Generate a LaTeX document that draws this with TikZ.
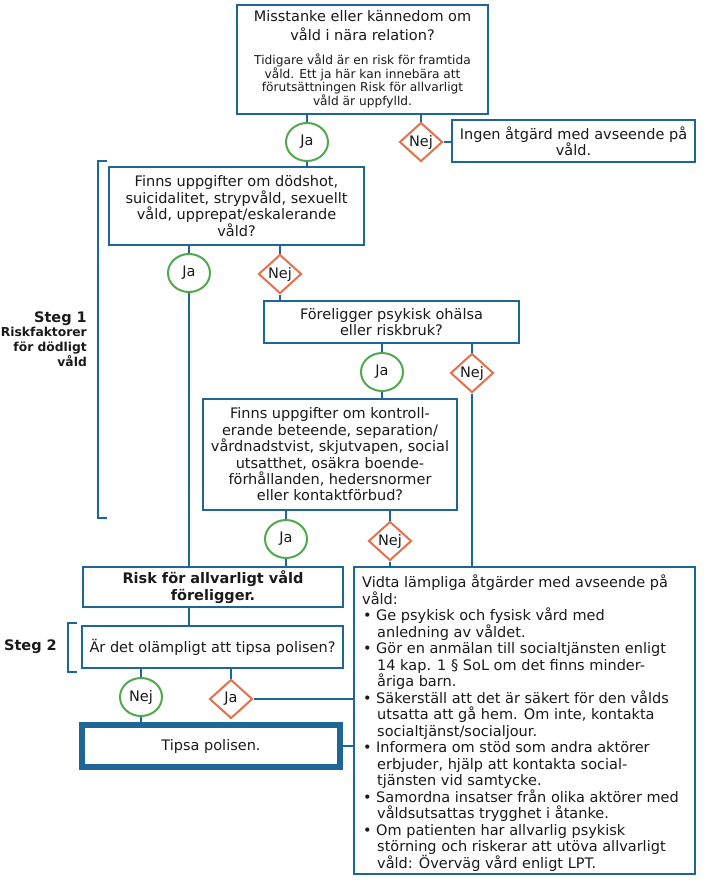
\documentclass[tikz,border=0pt]{standalone}
\usepackage{fontspec}
\setmainfont{DejaVu Sans}
\usetikzlibrary{shapes.geometric}
\definecolor{boxblue}{HTML}{1F6696}
\definecolor{jagreen}{HTML}{52A84E}
\definecolor{nejorange}{HTML}{E5704B}
\definecolor{txt}{HTML}{1A1A1A}
\newcommand\mybul{\makebox[14pt][l]{\hspace{1pt}•}}
\newcommand\myind{\hspace*{15pt}}
\begin{document}
\begin{tikzpicture}[x=1pt,y=-1pt,
  every node/.style={text=txt},
  box/.style={draw=boxblue, line width=2.6pt, fill=white, align=center, inner sep=0pt,
    font=\fontsize{14.5}{16.4}\selectfont},
  jastyle/.style={ellipse, draw=jagreen, line width=2pt, fill=white, minimum width=42pt,
    minimum height=38pt, inner sep=0pt, font=\fontsize{14.5}{16}\selectfont},
  nejstyle/.style={diamond, draw=nejorange, line width=2pt, fill=white, minimum width=43pt,
    minimum height=39pt, inner sep=0pt, font=\fontsize{14.5}{16}\selectfont},
  conn/.style={draw=boxblue, line width=2.4pt},
  bracket/.style={draw=boxblue, line width=2.4pt},
  acttext/.style={align=left, inner sep=0pt, font=\fontsize{14.5}{16.5}\selectfont}
]
\useasboundingbox (0,0) rectangle (727,894);
\fill[white] (0,0) rectangle (727,894);

% boxes
\node[box, minimum width=251pt, minimum height=109pt] (top) at (362.5,59.5)
  {\begin{minipage}{245pt}\centering\fontsize{14.5}{19}\selectfont Misstanke eller kännedom om\\ våld i nära relation?\par\vspace{11pt}\fontsize{12.2}{12.8}\selectfont Tidigare våld är en risk för framtida\\ våld. Ett ja här kan innebära att\\ förutsättningen Risk för allvarligt\\ våld är uppfylld.\par\end{minipage}};
\node[jastyle] (ja1) at (307,142) {Ja};
\node[nejstyle] (nej1) at (421,142) {Nej};
\node[box, minimum width=243pt, minimum height=42pt] (ingen) at (573.5,141) {Ingen åtgärd med avseende på\\ våld.};

\node[box, minimum width=255pt, minimum height=78pt] (q1) at (236.5,206)
  {Finns uppgifter om dödshot,\\ suicidalitet, strypvåld, sexuellt\\ våld, upprepat/eskalerande\\ våld?};
\node[jastyle] (ja2) at (189,273) {Ja};
\node[nejstyle] (nej2) at (280,274) {Nej};

\node[box, minimum width=255pt, minimum height=42pt] (q2) at (391.5,322) {Föreligger psykisk ohälsa\\ eller riskbruk?};
\node[jastyle] (ja3) at (382,372) {Ja};
\node[nejstyle] (nej3) at (472,373) {Nej};

\node[box, minimum width=254pt, minimum height=111pt] (q3) at (330,454.5)
  {Finns uppgifter om kontroll-\\ erande beteende, separation/\\ vårdnadstvist, skjutvapen, social\\ utsatthet, osäkra boende-\\ förhållanden, hedersnormer\\ eller kontaktförbud?};
\node[jastyle] (ja4) at (286,539) {Ja};
\node[nejstyle] (nej4) at (390,541) {Nej};

\node[box, minimum width=260pt, minimum height=40pt, font=\fontsize{14.5}{16.4}\selectfont\bfseries] (risk) at (213,587)
  {Risk för allvarligt våld\\ föreligger.};
\node[box, minimum width=261pt, minimum height=42pt] (q4) at (212.5,647) {Är det olämpligt att tipsa polisen?};
\node[jastyle] (nej5) at (141,697) {Nej};
\node[nejstyle] (ja5) at (231,699) {Ja};
\node[box, line width=6pt, minimum width=258pt, minimum height=42pt] (tipsa) at (211,746) {Tipsa polisen.};

\node[box, minimum width=341pt, minimum height=307pt] (action) at (524.5,720.5) {};
\node[acttext, anchor=north west] (actiontext) at (362,575) {%
Vidta lämpliga åtgärder med avseende på\\
våld:\\
\mybul Ge psykisk och fysisk vård med\\
\myind anledning av våldet.\\
\mybul Gör en anmälan till socialtjänsten enligt\\
\myind 14 kap. 1 § SoL om det finns minder-\\
\myind åriga barn.\\
\mybul Säkerställ att det är säkert för den vålds\\
\myind utsatta att gå hem. Om inte, kontakta\\
\myind socialtjänst/socialjour.\\
\mybul Informera om stöd som andra aktörer\\
\myind erbjuder, hjälp att kontakta social-\\
\myind tjänsten vid samtycke.\\
\mybul Samordna insatser från olika aktörer med\\
\myind våldsutsattas trygghet i åtanke.\\
\mybul Om patienten har allvarlig psykisk\\
\myind störning och riskerar att utöva allvarligt\\
\myind våld: Överväg vård enligt LPT.};

% step labels
\node[anchor=east, inner sep=0pt, font=\fontsize{14.5}{16}\selectfont\bfseries] (steg1) at (87,319) {Steg 1};
\node[anchor=north east, align=right, inner sep=0pt, font=\fontsize{12.3}{14.8}\selectfont\bfseries] (steg1sub) at (87,327)
  {Riskfaktorer\\ för dödligt\\ våld};
\node[anchor=east, inner sep=0pt, font=\fontsize{14.5}{16}\selectfont\bfseries] (steg2) at (57,647) {Steg 2};

% brackets
\coordinate (b1a) at (107,161);
\coordinate (b1b) at (107,518);
\draw[bracket] (b1a) -- (98,161) -- (98,518) -- (b1b);
\coordinate (b2a) at (77,623);
\coordinate (b2b) at (77,672);
\draw[bracket] (b2a) -- (68,623) -- (68,672) -- (b2b);

% connectors
\draw[conn] (ja1 |- top.south) -- (ja1.north);
\draw[conn] (ja1.south) -- (ja1 |- q1.north);
\draw[conn] (nej1 |- top.south) -- (nej1.north);
\draw[conn] (nej1.east) -- (ingen.west |- nej1.east);
\draw[conn] (ja2 |- q1.south) -- (ja2.north);
\draw[conn] (ja2.south) -- (ja2 |- risk.north);
\draw[conn] (nej2 |- q1.south) -- (nej2.north);
\draw[conn] (nej2.south) -- (nej2 |- q2.north);
\draw[conn] (ja3 |- q2.south) -- (ja3.north);
\draw[conn] (ja3.south) -- (ja3 |- q3.north);
\draw[conn] (nej3 |- q2.south) -- (nej3.north);
\draw[conn] (nej3.south) -- (nej3 |- action.north);
\draw[conn] (ja4 |- q3.south) -- (ja4.north);
\draw[conn] (ja4.south) -- (ja4 |- risk.north);
\draw[conn] (nej4 |- q3.south) -- (nej4.north);
\draw[conn] (nej4.south) -- (nej4 |- action.north);
\draw[conn] (ja2 |- risk.south) -- (ja2 |- q4.north);
\draw[conn] (nej5 |- q4.south) -- (nej5.north);
\draw[conn] (nej5.south) -- (nej5 |- tipsa.north);
\draw[conn] (ja5 |- q4.south) -- (ja5.north);
\draw[conn] (ja5.east) -- (action.west |- ja5.east);
\draw[conn] (tipsa.east) -- (action.west |- tipsa.east);
\end{tikzpicture}
\end{document}
